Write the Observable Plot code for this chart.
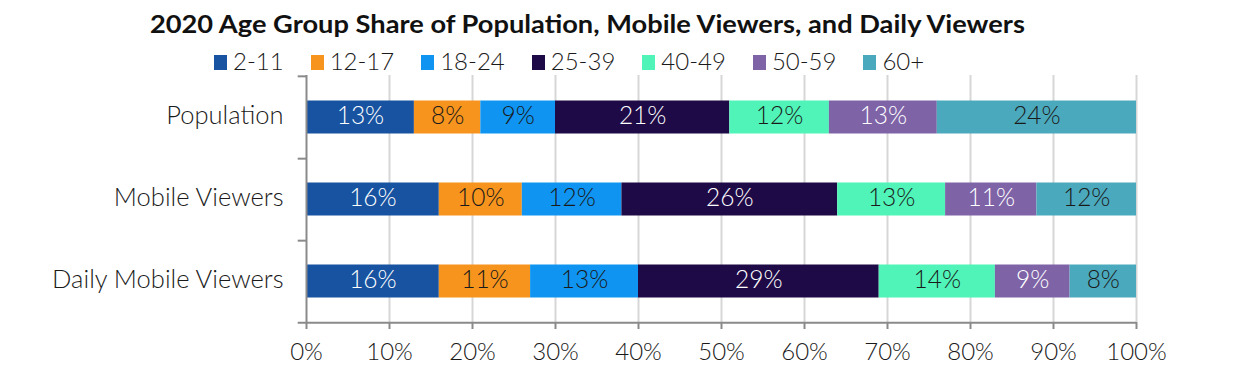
<!DOCTYPE html>
<html>
<head>
<meta charset="utf-8">
<script src="https://cdn.jsdelivr.net/npm/d3@7"></script>
<script src="https://cdn.jsdelivr.net/npm/@observablehq/plot@0.6"></script>
<style>
  html, body { margin: 0; padding: 0; background: #fff; }
  body { width: 1245px; height: 377px; overflow: hidden; font-family: Lato, "Open Sans", sans-serif; color: #1a1a1a; }
  #title { width: 1175px; height: 46px; line-height: 47px; text-align: center; white-space: nowrap; overflow: visible; }
  #title span { display: inline-block; font-weight: 700; font-size: 24px; color: #111; transform-origin: center; }
  #legend { height: 22px; display: flex; align-items: center; padding-left: 214px; font-size: 24px; font-weight: 300; line-height: 26px; padding-top: 4px; box-sizing: content-box; }
  .item { display: flex; align-items: center; margin-right: 27px; }
  .sw { width: 13px; height: 15px; margin-right: 6px; margin-top: 2px; }
  #chart svg { display: block; }
</style>
</head>
<body>
<div id="title"><span>2020 Age Group Share of Population, Mobile Viewers, and Daily Viewers</span></div>
<div id="legend"></div>
<div id="chart"></div>
<script>
const categories = ["Population", "Mobile Viewers", "Daily Mobile Viewers"];
const ageGroups = ["2-11", "12-17", "18-24", "25-39", "40-49", "50-59", "60+"];
const population = [13, 8, 9, 21, 12, 13, 24];
const mobileViewers = [16, 10, 12, 26, 13, 11, 12];
const dailyMobileViewers = [16, 11, 13, 29, 14, 9, 8];
const colors = ["#1753A0", "#F7941D", "#0F95F1", "#1E0A46", "#50F4B8", "#7E63A7", "#4BA9BD"];
const whiteTextGroups = ["2-11", "25-39", "50-59"];
const xTicks = [0, 10, 20, 30, 40, 50, 60, 70, 80, 90, 100];

const seriesByCategory = [population, mobileViewers, dailyMobileViewers];
const data = [];
categories.forEach((c, i) => {
  ageGroups.forEach((a, j) => data.push({category: c, age: a, value: seriesByCategory[i][j]}));
});

// title width fit
const ts = document.querySelector("#title span");
const tw = ts.getBoundingClientRect().width;
ts.style.transform = `scaleX(${875 / tw})`;

// legend
const legend = document.getElementById("legend");
ageGroups.forEach((a, j) => {
  const it = document.createElement("div");
  it.className = "item";
  const sw = document.createElement("div");
  sw.className = "sw";
  sw.style.background = colors[j];
  const t = document.createElement("span");
  t.textContent = a;
  it.appendChild(sw); it.appendChild(t);
  legend.appendChild(it);
});

const bandHalf = (322 - 75) / 3 / 2;
const axisColor = "#8a8a8a";
const last = categories[categories.length - 1];
const isWhite = d => whiteTextGroups.includes(d.age);

const stackOpts = {x: "value", y: "category", z: "age", order: ageGroups};

const chart = Plot.plot({
  width: 1245,
  height: 305,
  marginTop: 3,
  marginBottom: 55,
  marginLeft: 306,
  marginRight: 109,
  style: {fontFamily: "Lato, 'Open Sans', sans-serif", fontSize: "24px", color: "#1a1a1a", background: "#fff"},
  x: {domain: [0, 100], ticks: xTicks},
  y: {domain: categories, padding: 0},
  color: {domain: ageGroups, range: colors},
  marks: [
    Plot.ruleX(xTicks.filter(d => d > 0), {stroke: "#d6d6d6", strokeWidth: 2}),
    Plot.barX(data, Plot.stackX({...stackOpts, fill: "age", insetTop: 24.5, insetBottom: 24.5})),
    Plot.text(data, Plot.stackX({...stackOpts, text: d => isWhite(d) ? d.value + "%" : "", fill: "white", fontSize: 24.5, fontWeight: 300, dy: -1})),
    Plot.text(data, Plot.stackX({...stackOpts, text: d => isWhite(d) ? "" : d.value + "%", fill: "#1a1a1a", fontSize: 24.5, fontWeight: 300, dy: -1})),
    Plot.ruleX([0], {stroke: axisColor, strokeWidth: 2}),
    Plot.ruleY([categories[0]], {x1: -1, x2: 0, dy: -bandHalf, stroke: axisColor, strokeWidth: 2}),
    Plot.ruleY(categories, {x1: -1, x2: d => d === last ? 100 : 0, dy: bandHalf, stroke: axisColor, strokeWidth: 2}),
    Plot.axisX({ticks: xTicks, tickFormat: d => d + "%", tickSize: 7, tickPadding: 13, stroke: axisColor, strokeWidth: 2, fill: "#1a1a1a", fontSize: 24, fontWeight: 300, label: null}),
    Plot.axisY({tickSize: 0, tickPadding: 23, fill: "#1a1a1a", fontSize: 25.5, fontWeight: 300, label: null, dy: -2})
  ]
});
document.getElementById("chart").appendChild(chart);
</script>
</body>
</html>
